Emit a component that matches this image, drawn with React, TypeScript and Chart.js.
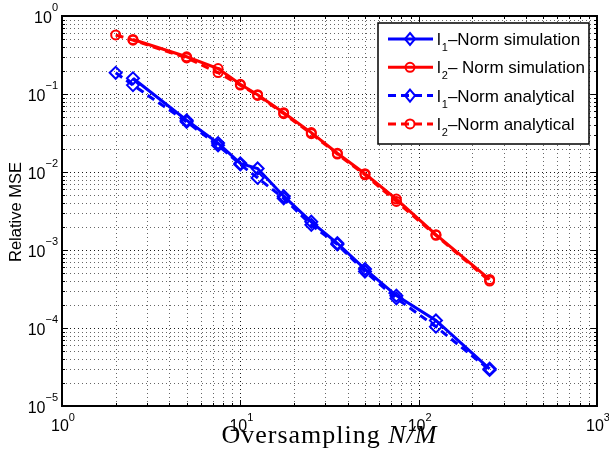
import { useEffect, useRef } from "react";
import { Chart, registerables } from "chart.js";
Chart.register(...registerables);

// ---- data ----
const xSim = [2.5, 5, 7.5, 10, 12.5, 17.5, 25, 35, 50, 75, 125, 250];
const l1Sim = [0.159, 0.046, 0.0235, 0.0129, 0.0111, 0.0049, 0.0023, 0.00122, 0.00057, 0.00026, 0.000125, 0.00003];
const l2Sim = [0.5, 0.3, 0.212, 0.133, 0.098, 0.0575, 0.032, 0.0174, 0.0095, 0.0045, 0.00157, 0.00042];
const xAna = [2, 2.5, 5, 7.5, 10, 12.5, 17.5, 25, 35, 50, 75, 125, 250];
const l1Ana = [0.187, 0.13, 0.044, 0.022, 0.0125, 0.0084, 0.0046, 0.0021, 0.00118, 0.00053, 0.00024, 0.000104, 0.000029];
const l2Ana = [0.571, 0.49, 0.29, 0.188, 0.13, 0.096, 0.056, 0.031, 0.017, 0.0092, 0.0042, 0.00154, 0.0004];

const xTickExps = [0, 1, 2, 3];
const yTickExps = [-5, -4, -3, -2, -1, 0];

const legendItems = [
  { base: "l", sub: "1", rest: "\u2013Norm simulation", color: "#0000ff", marker: "rectRot", dashed: false },
  { base: "l", sub: "2", rest: "\u2013 Norm simulation", color: "#ff0000", marker: "circle", dashed: false },
  { base: "l", sub: "1", rest: "\u2013Norm analytical", color: "#0000ff", marker: "rectRot", dashed: true },
  { base: "l", sub: "2", rest: "\u2013Norm analytical", color: "#ff0000", marker: "circle", dashed: true },
];

const xTitle = "Oversampling";
const xTitleMath = "N/M";
const yTitle = "Relative MSE";

const SANS = '"Liberation Sans", Arial, Helvetica, sans-serif';
const SERIF = '"Liberation Serif", "Times New Roman", serif';

function pts(xs: number[], ys: number[]) {
  return xs.map((x, i) => ({ x, y: ys[i] }));
}

function drawMarker(ctx: CanvasRenderingContext2D, kind: string, x: number, y: number, color: string) {
  ctx.save();
  ctx.setLineDash([]);
  ctx.strokeStyle = color;
  ctx.lineWidth = 2;
  ctx.beginPath();
  if (kind === "circle") {
    ctx.arc(x, y, 4.5, 0, Math.PI * 2);
  } else {
    ctx.moveTo(x, y - 6);
    ctx.lineTo(x + 5, y);
    ctx.lineTo(x, y + 6);
    ctx.lineTo(x - 5, y);
    ctx.closePath();
  }
  ctx.stroke();
  ctx.restore();
}

const decor = {
  id: "decor",
  beforeDatasetsDraw(chart: any) {
    const { ctx, chartArea: a, scales } = chart;
    const xs = scales.x, ys = scales.y;
    ctx.save();
    ctx.lineWidth = 1;
    ctx.setLineDash([1, 3]);
    for (let e = xTickExps[0]; e < xTickExps[xTickExps.length - 1]; e++) {
      for (let m = 1; m <= 9; m++) {
        if (e === xTickExps[0] && m === 1) continue;
        const px = Math.round(xs.getPixelForValue(m * Math.pow(10, e))) + 0.5;
        ctx.strokeStyle = m === 1 ? "rgba(0,0,0,0.9)" : "rgba(0,0,0,0.6)";
        ctx.beginPath();
        ctx.moveTo(px, a.bottom);
        ctx.lineTo(px, a.top);
        ctx.stroke();
      }
    }
    for (let e = yTickExps[0]; e < yTickExps[yTickExps.length - 1]; e++) {
      for (let m = 1; m <= 9; m++) {
        if (e === yTickExps[0] && m === 1) continue;
        const py = Math.round(ys.getPixelForValue(m * Math.pow(10, e))) + 0.5;
        ctx.strokeStyle = m === 1 ? "rgba(0,0,0,0.9)" : "rgba(0,0,0,0.6)";
        ctx.beginPath();
        ctx.moveTo(a.left, py);
        ctx.lineTo(a.right, py);
        ctx.stroke();
      }
    }
    ctx.setLineDash([]);
    ctx.strokeStyle = "#000";
    for (let e = xTickExps[0]; e < xTickExps[xTickExps.length - 1]; e++) {
      for (let m = 1; m <= 9; m++) {
        const px = Math.round(xs.getPixelForValue(m * Math.pow(10, e))) + 0.5;
        const len = m === 1 ? 6 : 3;
        ctx.beginPath();
        ctx.moveTo(px, a.bottom); ctx.lineTo(px, a.bottom - len);
        ctx.moveTo(px, a.top); ctx.lineTo(px, a.top + len);
        ctx.stroke();
      }
    }
    for (let e = yTickExps[0]; e < yTickExps[yTickExps.length - 1]; e++) {
      for (let m = 1; m <= 9; m++) {
        const py = Math.round(ys.getPixelForValue(m * Math.pow(10, e))) + 0.5;
        const len = m === 1 ? 6 : 3;
        ctx.beginPath();
        ctx.moveTo(a.left, py); ctx.lineTo(a.left + len, py);
        ctx.moveTo(a.right, py); ctx.lineTo(a.right - len, py);
        ctx.stroke();
      }
    }
    ctx.restore();
  },
  afterDatasetsDraw(chart: any) {
    const { ctx, chartArea: a, scales } = chart;
    const xs = scales.x, ys = scales.y;
    ctx.save();
    ctx.strokeStyle = "#000";
    ctx.lineWidth = 2;
    ctx.strokeRect(a.left, a.top, a.right - a.left, a.bottom - a.top);

    ctx.fillStyle = "#000";
    ctx.textBaseline = "alphabetic";
    const big = `16px ${SANS}`;
    const small = `11px ${SANS}`;
    const expStr = (e: number) => (e < 0 ? "\u2212" + -e : String(e));
    for (const e of xTickExps) {
      const px = xs.getPixelForValue(Math.pow(10, e));
      ctx.font = big;
      const w1 = ctx.measureText("10").width;
      ctx.font = small;
      const w2 = ctx.measureText(expStr(e)).width;
      const x0 = px - (w1 + w2) / 2 + 1;
      ctx.font = big;
      ctx.textAlign = "left";
      ctx.fillText("10", x0, a.bottom + 25);
      ctx.font = small;
      ctx.fillText(expStr(e), x0 + w1, a.bottom + 15);
    }
    for (const e of yTickExps) {
      const py = ys.getPixelForValue(Math.pow(10, e));
      ctx.font = small;
      const w2 = ctx.measureText(expStr(e)).width;
      ctx.textAlign = "left";
      const xr = a.left - 4;
      ctx.fillText(expStr(e), xr - w2, py - 5);
      ctx.font = big;
      ctx.textAlign = "right";
      ctx.fillText("10", xr - w2, py + 7);
    }

    ctx.save();
    ctx.translate(21, (a.top + a.bottom) / 2 + 1);
    ctx.rotate(-Math.PI / 2);
    ctx.font = `16.5px ${SANS}`;
    ctx.textAlign = "center";
    ctx.fillText(yTitle, 0, 0);
    ctx.restore();

    ctx.save();
    (ctx as any).letterSpacing = "1px";
    const tf = `26px ${SERIF}`;
    const tfi = `italic 26px ${SERIF}`;
    ctx.font = tf;
    const t1 = xTitle + " ";
    const w1 = ctx.measureText(t1).width;
    ctx.font = tfi;
    const w2 = ctx.measureText(xTitleMath).width;
    const cx = (a.left + a.right) / 2;
    const sx = cx - (w1 + w2) / 2;
    ctx.textAlign = "left";
    ctx.font = tf;
    ctx.fillText(t1, sx, a.bottom + 37);
    ctx.font = tfi;
    ctx.fillText(xTitleMath, sx + w1, a.bottom + 37);
    ctx.restore();

    const lw = 211, lh = 121;
    const lx = a.right - 8 - lw, ly = a.top + 7;
    ctx.fillStyle = "#fff";
    ctx.fillRect(lx, ly, lw, lh);
    ctx.strokeStyle = "#000";
    ctx.lineWidth = 1.5;
    ctx.strokeRect(lx, ly, lw, lh);
    legendItems.forEach((it, i) => {
      const yy = ly + 16 + i * 28.3;
      ctx.save();
      ctx.strokeStyle = it.color;
      ctx.lineWidth = 3;
      ctx.setLineDash(it.dashed ? [8, 5] : []);
      ctx.beginPath();
      ctx.moveTo(lx + 10, yy);
      ctx.lineTo(lx + 55, yy);
      ctx.stroke();
      ctx.restore();
      drawMarker(ctx, it.marker, lx + 32, yy, it.color);
      ctx.fillStyle = "#000";
      ctx.textAlign = "left";
      ctx.font = `17px ${SANS}`;
      let tx = lx + 59;
      ctx.fillText(it.base, tx, yy + 6);
      tx += ctx.measureText(it.base).width + 1;
      ctx.font = `11px ${SANS}`;
      ctx.fillText(it.sub, tx, yy + 12);
      tx += ctx.measureText(it.sub).width;
      ctx.font = `17px ${SANS}`;
      ctx.fillText(it.rest, tx, yy + 6);
    });
    ctx.restore();
  },
};

export default function App() {
  const ref = useRef<HTMLCanvasElement | null>(null);
  useEffect(() => {
    if (!ref.current) return;
    const common = { fill: false, tension: 0, pointBackgroundColor: "rgba(0,0,0,0)", pointBorderWidth: 2 };
    const chart = new Chart(ref.current, {
      type: "line",
      data: {
        datasets: [
          { ...common, label: "l1 sim", data: pts(xSim, l1Sim), borderColor: "#0000ff", pointBorderColor: "#0000ff", borderWidth: 3, pointStyle: "rectRot", pointRadius: 6 },
          { ...common, label: "l2 sim", data: pts(xSim, l2Sim), borderColor: "#ff0000", pointBorderColor: "#ff0000", borderWidth: 3, pointStyle: "circle", pointRadius: 4.5 },
          { ...common, label: "l1 ana", data: pts(xAna, l1Ana), borderColor: "#0000ff", pointBorderColor: "#0000ff", borderWidth: 3, borderDash: [8, 5], pointStyle: "rectRot", pointRadius: 6 },
          { ...common, label: "l2 ana", data: pts(xAna, l2Ana), borderColor: "#ff0000", pointBorderColor: "#ff0000", borderWidth: 3, borderDash: [8, 5], pointStyle: "circle", pointRadius: 4.5 },
        ] as any,
      },
      options: {
        animation: false,
        responsive: false,
        layout: { padding: { left: 62, top: 16, right: 12, bottom: 57 } },
        plugins: { legend: { display: false }, tooltip: { enabled: false } },
        scales: {
          x: { type: "logarithmic", min: Math.pow(10, xTickExps[0]), max: Math.pow(10, xTickExps[xTickExps.length - 1]), display: false },
          y: { type: "logarithmic", min: Math.pow(10, yTickExps[0]), max: Math.pow(10, yTickExps[yTickExps.length - 1]), display: false },
        },
      },
      plugins: [decor],
    });
    return () => chart.destroy();
  }, []);
  return (
    <div style={{ position: "absolute", left: 0, top: 0, width: 609, height: 463, background: "#fff" }}>
      <canvas ref={ref} width={609} height={463} style={{ display: "block" }} />
    </div>
  );
}
